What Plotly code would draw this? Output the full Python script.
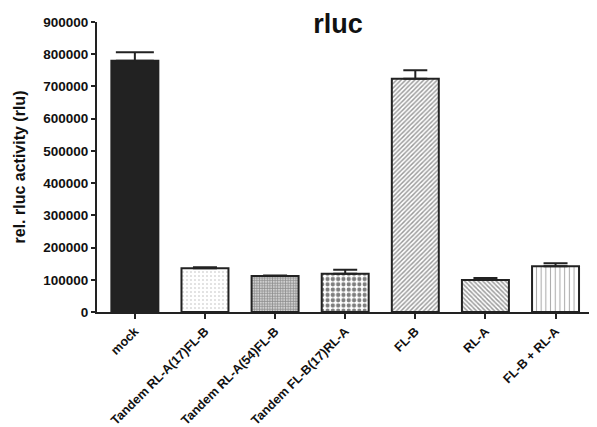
import plotly.graph_objects as go

categories = ["mock", "Tandem RL-A(17)FL-B", "Tandem RL-A(54)FL-B", "Tandem FL-B(17)RL-A",
              "FL-B", "RL-A", "FL-B + RL-A"]
values = [780000, 136000, 112000, 119000, 724000, 99000, 142000]
errors = [26000, 3000, 1500, 12000, 26000, 6500, 9000]
y_ticks = [0, 100000, 200000, 300000, 400000, 500000, 600000, 700000, 800000, 900000]

styles = [
    dict(color="#222222", shape="", size=8, solidity=0.5, fg="#222222", cap=19),
    dict(color="white", shape=".", size=4, solidity=0.12, fg="#777777", cap=12),
    dict(color="white", shape=".", size=2.6, solidity=0.7, fg="#222222", cap=12),
    dict(color="white", shape=".", size=5.3, solidity=0.5, fg="#000000", cap=12),
    dict(color="white", shape="/", size=3.2, solidity=0.45, fg="#333333", cap=12),
    dict(color="white", shape="\\", size=3.2, solidity=0.45, fg="#333333", cap=12),
    dict(color="white", shape="|", size=4.7, solidity=0.22, fg="#555555", cap=12),
]

font_family = "Liberation Sans, Arial, sans-serif"

# page body has an 8px margin, so the figure is sized to fill the rest of the window
W, H = 589, 419

fig = go.Figure()
for cat, v, e, st in zip(categories, values, errors, styles):
    marker = dict(color=st["color"], line=dict(color="#222222", width=2))
    if st["shape"]:
        marker["pattern"] = dict(shape=st["shape"], size=st["size"], solidity=st["solidity"],
                                 fgcolor=st["fg"], bgcolor="white", fillmode="overlay")
    fig.add_trace(go.Bar(
        x=[cat], y=[v], width=0.67, marker=marker,
        error_y=dict(type="data", array=[e], arrayminus=[0], symmetric=False,
                     color="#222222", thickness=2, width=st["cap"]),
        showlegend=False,
    ))

fig.update_layout(
    width=W, height=H,
    margin=dict(l=89, r=5, t=14, b=115, autoexpand=False),
    barmode="overlay",
    plot_bgcolor="white", paper_bgcolor="white",
    font=dict(family=font_family, color="#111111"),
    title=dict(text="rluc", x=0.487, xref="paper", xanchor="center",
               y=1 - 16 / H, yref="container", yanchor="middle", automargin=False,
               font=dict(size=27, weight="bold", family=font_family, color="#111111")),
)
fig.update_xaxes(
    type="category", categoryorder="array", categoryarray=categories,
    range=[-0.54, 6.52], showline=True, linewidth=2, linecolor="#222222",
    ticks="outside", ticklen=5, tickwidth=2, tickcolor="#222222",
    tickangle=-45, showgrid=False, automargin=False,
    tickfont=dict(size=12.6, weight="bold", family=font_family, color="#111111"),
)
fig.update_yaxes(
    range=[0, 900000], tickvals=y_ticks, ticktext=[str(t) for t in y_ticks],
    showline=True, linewidth=2, linecolor="#222222",
    ticks="outside", ticklen=4, tickwidth=2, tickcolor="#222222",
    showgrid=False, zeroline=False, automargin=False,
    tickfont=dict(size=13.5, weight="bold", family=font_family, color="#111111"),
    title=dict(text="rel. rluc activity (rlu)", standoff=14,
               font=dict(size=16, weight="bold", family=font_family, color="#111111")),
)

fig.write_html("out.html")
